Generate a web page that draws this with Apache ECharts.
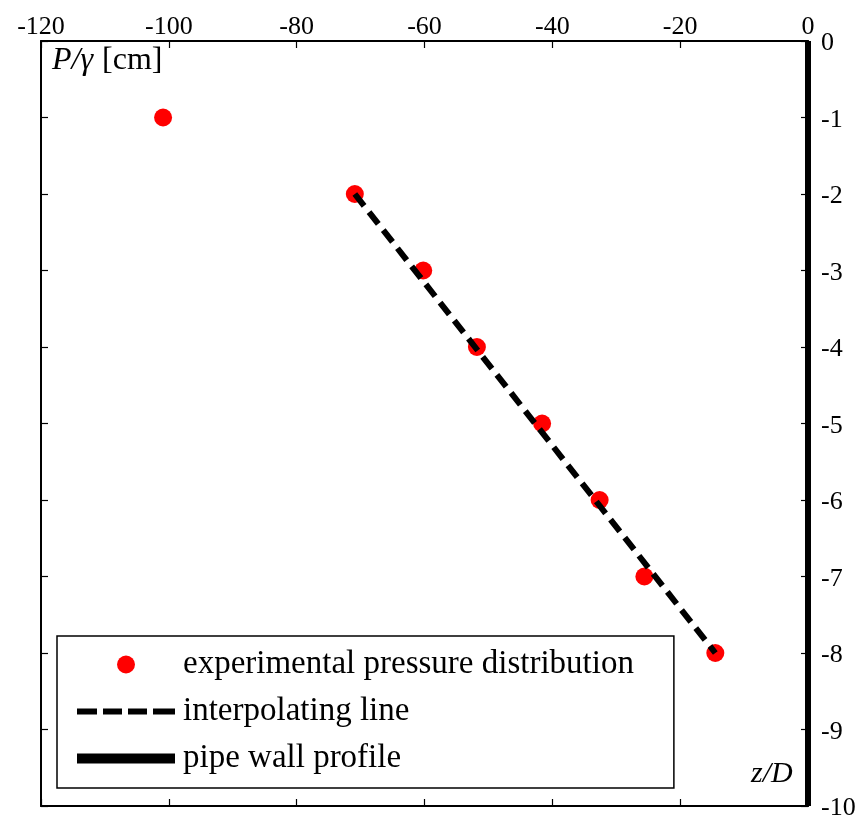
<!DOCTYPE html>
<html><head><meta charset="utf-8">
<script src="https://cdn.jsdelivr.net/npm/echarts@6/dist/echarts.min.js"></script>
<style>html,body{margin:0;padding:0;background:#fff}#c{width:857px;height:816px}</style>
</head><body><div id="c"></div>
<script>
// Data
const pointsZ = [-100.9, -70.9, -60.2, -51.8, -41.6, -32.6, -25.6, -14.5];
const pointsP = [-1, -2, -3, -4, -5, -6, -7, -8];
const lineZ = [-70.9, -14.5];
const lineP = [-2, -8];
const wallZ = [0, 0];
const wallP = [0, -10];
const xTicks = {min: -120, max: 0, interval: 20};
const yTicks = {min: -10, max: 0, interval: 1};
const seriesNames = ['experimental pressure distribution', 'interpolating line', 'pipe wall profile'];

const FF = "'Liberation Serif', 'Times New Roman', serif";
const zip = (a, b) => a.map((v, i) => [v, b[i]]);

const chart = echarts.init(document.getElementById('c'), null, {renderer: 'canvas'});
const axisLine = {show: true, onZero: false, lineStyle: {color: '#000', width: 2}};
const tick = {inside: true, length: 7, lineStyle: {color: '#000', width: 1.2}};
chart.setOption({
  backgroundColor: '#fff',
  animation: false,
  grid: {left: 41, right: 49, top: 41, bottom: 10, containLabel: false, outerBoundsMode: 'none'},
  xAxis: [
    {type: 'value', position: 'top', min: xTicks.min, max: xTicks.max, interval: xTicks.interval,
     axisLine: axisLine, axisTick: tick,
     axisLabel: {color: '#000', fontFamily: FF, fontSize: 26, margin: 1}, splitLine: {show: false}},
    {type: 'value', position: 'bottom', min: xTicks.min, max: xTicks.max, interval: xTicks.interval,
     axisLine: axisLine, axisTick: tick, axisLabel: {show: false}, splitLine: {show: false}}
  ],
  yAxis: [
    {type: 'value', position: 'right', min: yTicks.min, max: yTicks.max, interval: yTicks.interval,
     axisLine: axisLine, axisTick: tick,
     axisLabel: {color: '#000', fontFamily: FF, fontSize: 26, margin: 13,
       formatter: '{a|{value}}',
       rich: {a: {fontFamily: FF, fontSize: 26, color: '#000', padding: [5, 0, 0, 0]}}},
     splitLine: {show: false}},
    {type: 'value', position: 'left', min: yTicks.min, max: yTicks.max, interval: yTicks.interval,
     axisLine: axisLine, axisTick: tick, axisLabel: {show: false}, splitLine: {show: false}}
  ],
  legend: {
    orient: 'vertical', left: 57, top: 636,
    padding: [12, 40, 13, 20],
    itemWidth: 98, itemHeight: 18, itemGap: 14, symbolKeepAspect: true,
    borderColor: '#000', borderWidth: 1.5, backgroundColor: '#fff',
    textStyle: {color: '#000', fontFamily: FF, fontSize: 33, padding: [0, 0, 0, 3]},
    data: [
      {name: seriesNames[0], icon: 'circle'},
      {name: seriesNames[1], icon: 'path://M0,0h20v6h-20zM26,0h19v6h-19zM51,0h19v6h-19zM76,0h22v6h-22z'},
      {name: seriesNames[2], icon: 'path://M0,0h99v10h-99z'}
    ]
  },
  graphic: [
    {type: 'text', left: 52, top: 45, style: {
      text: '{i|P/γ}{n|[cm]}',
      rich: {i: {fontFamily: FF, fontStyle: 'italic', fontSize: 32, fill: '#000'},
             n: {fontFamily: FF, fontSize: 32, fill: '#000', padding: [0, 0, 0, 9]}}}},
    {type: 'text', left: 751, top: 759, style: {
      text: 'z/D', font: "italic 30px 'Liberation Serif', serif", fill: '#000'}}
  ],
  series: [
    {name: seriesNames[0], type: 'scatter', xAxisIndex: 0, yAxisIndex: 0,
     data: zip(pointsZ, pointsP), symbol: 'circle', symbolSize: 18,
     itemStyle: {color: '#ff0000', opacity: 1}, z: 2},
    {name: seriesNames[1], type: 'line', xAxisIndex: 0, yAxisIndex: 0,
     data: zip(lineZ, lineP), symbol: 'none',
     lineStyle: {color: '#000', width: 6, type: [15, 8]}, itemStyle: {color: '#000'}, z: 3},
    {name: seriesNames[2], type: 'line', xAxisIndex: 0, yAxisIndex: 0, clip: false,
     data: zip(wallZ, wallP), symbol: 'none',
     lineStyle: {color: '#000', width: 6}, itemStyle: {color: '#000'}, z: 4}
  ]
});
</script></body></html>
